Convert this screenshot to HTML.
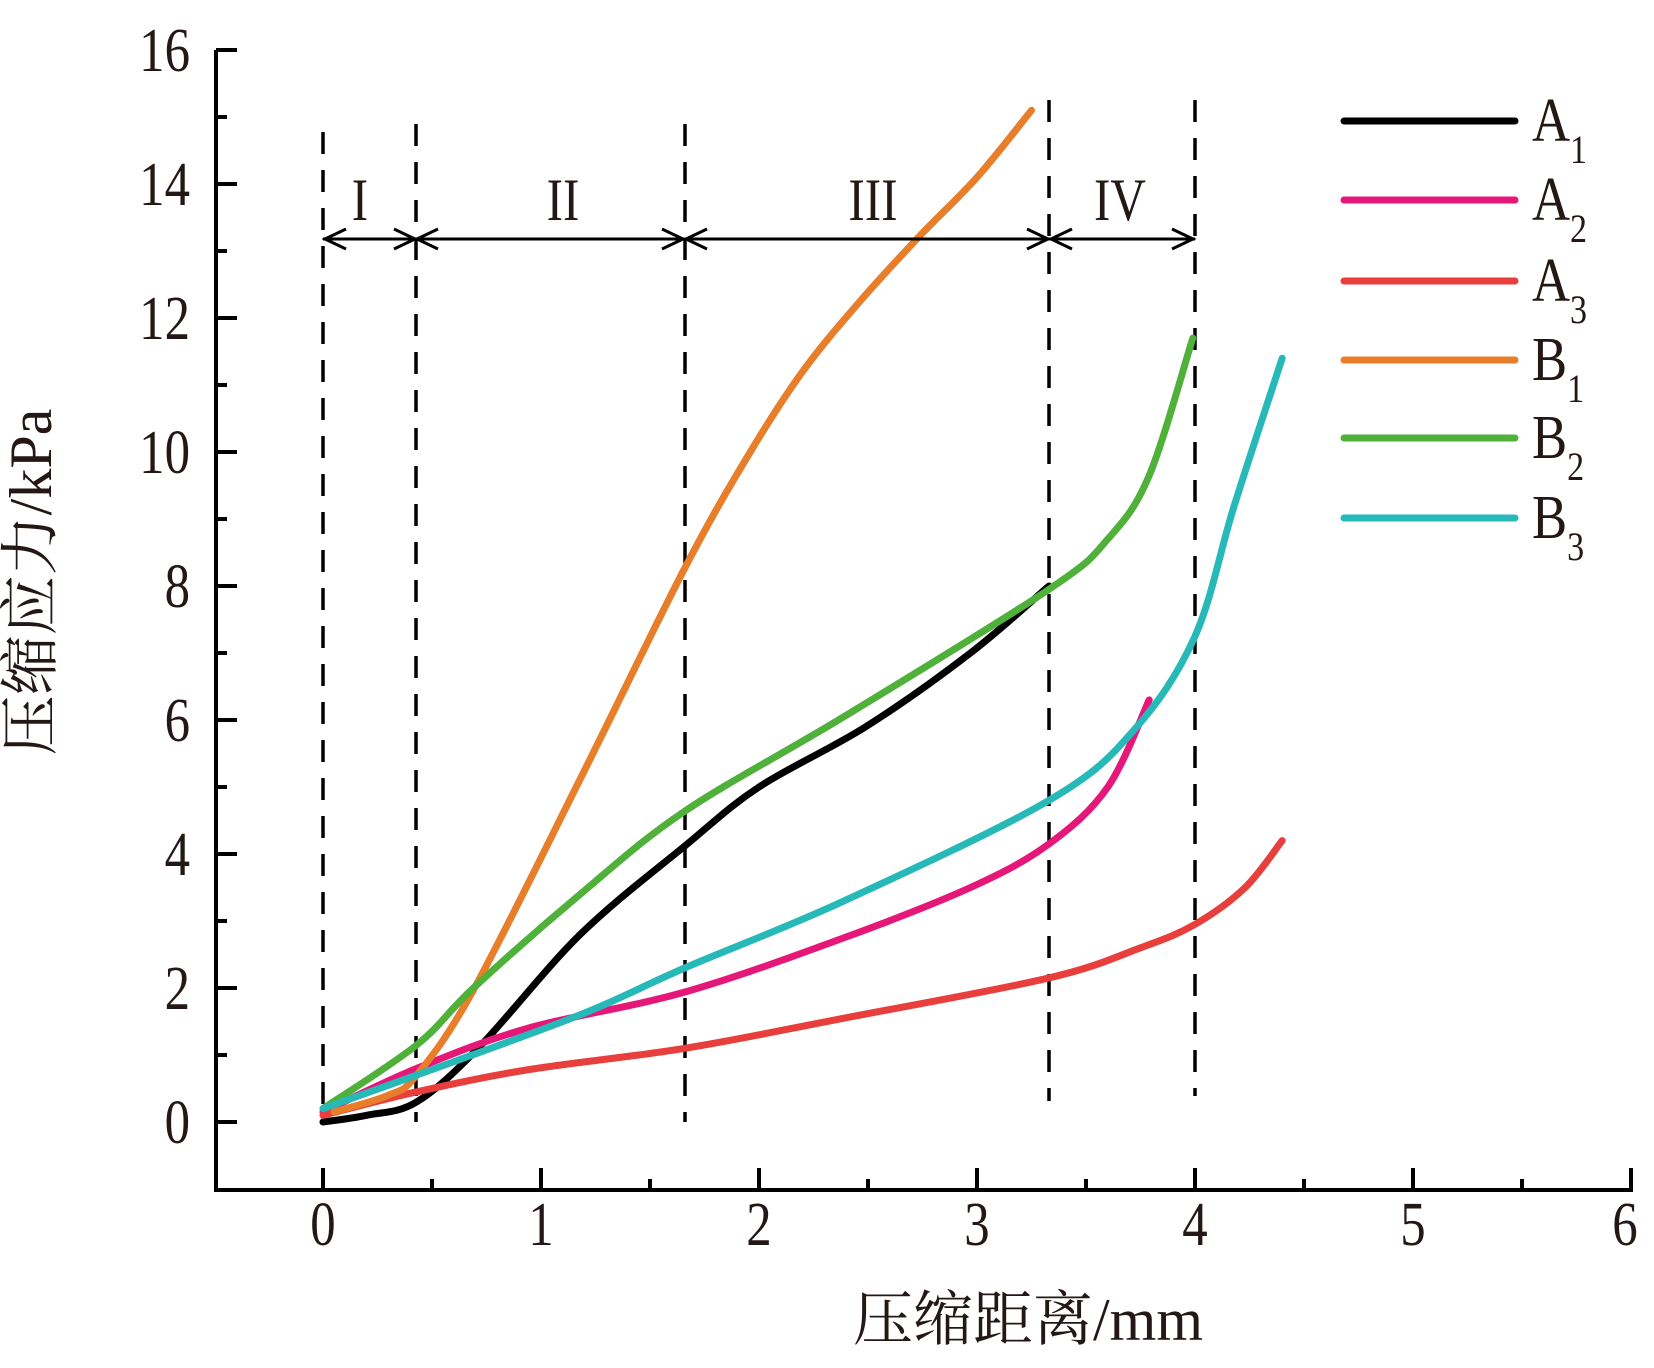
<!DOCTYPE html>
<html><head><meta charset="utf-8"><style>
html,body{margin:0;padding:0;background:#fff;}
svg{display:block;}
text{font-family:"Liberation Serif","Noto Serif CJK SC",serif;fill:#231815;}
</style></head><body>
<svg id="s" width="1654" height="1368" viewBox="0 0 1654 1368" xmlns="http://www.w3.org/2000/svg">
<g id="axes" stroke="#000" stroke-width="4" fill="none">
<path d="M216,50 V1190 H1631 V1170"/>
</g>
<g id="ticks" stroke="#000" stroke-width="4"></g>
<g id="dash" stroke="#000" stroke-width="3.5" stroke-dasharray="22,16"></g>
<g id="curves" fill="none" stroke-width="7" stroke-linecap="round" stroke-linejoin="round"></g>
<g stroke="#000" stroke-width="3" fill="none">
<path d="M323,239 H1195"/>
<path d="M346,229 L325,239 L346,249 M394,229 L415,239 L394,249 M438,229 L417,239 L438,249 M662,229 L683,239 L662,249 M707,229 L686,239 L707,249 M1027,229 L1048,239 L1027,249 M1072,229 L1051,239 L1072,249 M1172,229 L1193,239 L1172,249"/>
</g>
<g id="labels"></g>
<g id="legend"></g>
<text x="51" y="582" font-size="60" text-anchor="middle" transform="rotate(-90 51 582)">压缩应力/kPa</text>
<text x="1028" y="1340" font-size="60" text-anchor="middle">压缩距离/mm</text>
</svg>
<script>
const NS="http://www.w3.org/2000/svg";
const X=v=>323+218*v, Y=v=>1122-67*v;
function el(p,tag,a,txt){const e=document.createElementNS(NS,tag);for(const k in a)e.setAttribute(k,a[k]);if(txt!==undefined)e.textContent=txt;document.getElementById(p).appendChild(e);return e;}
function lab(x,y,t,anchor,size){return el("labels","text",{transform:`translate(${x},${y}) scale(0.82,1)`,"text-anchor":anchor,"font-size":size},t);}
for(let v=0;v<=16;v++){const y=Y(v);el("ticks","line",{x1:216,x2:v%2?227:237,y1:y,y2:y});}
for(let v=0;v<=16;v+=2)lab(190,Y(v)+21,v,"end",62);
for(let i=-1;i<=12;i++){const v=i/2,x=X(v);if(x<220)continue;el("ticks","line",{x1:x,x2:x,y1:1190,y2:i%2?1179:1168});}
for(let v=0;v<=6;v++)lab(X(v)-(v==6?6:0),1245,v,"middle",62);
[["I",360],["II",563],["III",873],["IV",1120]].forEach(d=>lab(d[1],220,d[0],"middle",60));
[[323,132,1122],[416,124,1122],[685,124,1122],[1049,100,1101],[1195,100,1096]].forEach(d=>el("dash","line",{x1:d[0],x2:d[0],y1:d[1],y2:d[2]}));
function path(pts){const p=pts.map(q=>[X(q[0]),Y(q[1])]);let d="M"+p[0][0]+","+p[0][1];
for(let i=0;i<p.length-1;i++){const p0=p[Math.max(0,i-1)],p1=p[i],p2=p[i+1],p3=p[Math.min(p.length-1,i+2)];
const c1=[p1[0]+(p2[0]-p0[0])/6,p1[1]+(p2[1]-p0[1])/6],c2=[p2[0]-(p3[0]-p1[0])/6,p2[1]-(p3[1]-p1[1])/6];
d+=` C${c1[0]},${c1[1]} ${c2[0]},${c2[1]} ${p2[0]},${p2[1]}`;}return d;}
const S=[
["#000000","A","1",[[0,0],[0.2,0.1],[0.43,0.3],[0.72,1.13],[1.18,2.8],[1.66,4.12],[2,5],[2.49,5.9],[2.97,7],[3.33,8]]],
["#e5187a","A","2",[[0,0.15],[0.43,0.8],[0.94,1.4],[1.66,1.94],[2.39,2.75],[2.97,3.5],[3.33,4.15],[3.6,5.0],[3.79,6.3]]],
["#e83e3c","A","3",[[0,0.1],[0.43,0.45],[0.94,0.78],[1.66,1.1],[2.39,1.55],[3.33,2.15],[3.75,2.6],[4.0,2.95],[4.23,3.5],[4.4,4.2]]],
["#e87d2a","B","1",[[0.05,0.15],[0.3,0.4],[0.43,0.7],[0.69,1.97],[1.18,5.12],[1.66,8.27],[1.96,10],[2.2,11.2],[2.45,12.2],[2.73,13.2],[3.0,14.1],[3.25,15.1]]],
["#4fb03a","B","2",[[0,0.2],[0.43,1.15],[0.69,2.0],[1.18,3.4],[1.66,4.64],[2.39,6.05],[3.33,7.95],[3.6,8.7],[3.79,9.65],[3.99,11.7]]],
["#27b8b8","B","3",[[0,0.2],[0.43,0.7],[1.18,1.6],[1.66,2.3],[2.39,3.3],[3.33,4.8],[3.72,5.85],[4.0,7.25],[4.18,9.2],[4.4,11.4]]]];
const ly=[121,200,281,360,438,518];
S.forEach((s,i)=>{el("curves","path",{d:path(s[3]),stroke:s[0]});
el("legend","line",{x1:1344,x2:1515,y1:ly[i],y2:ly[i],stroke:s[0],"stroke-width":7,"stroke-linecap":"round"});
const t=el("legend","text",{transform:`translate(1532,${ly[i]+20}) scale(0.85,1)`,"font-size":62},s[1]);
const ts=document.createElementNS(NS,"tspan");ts.setAttribute("font-size","40");ts.setAttribute("dy","22");ts.textContent=s[2];t.appendChild(ts);});
</script>
</body></html>
